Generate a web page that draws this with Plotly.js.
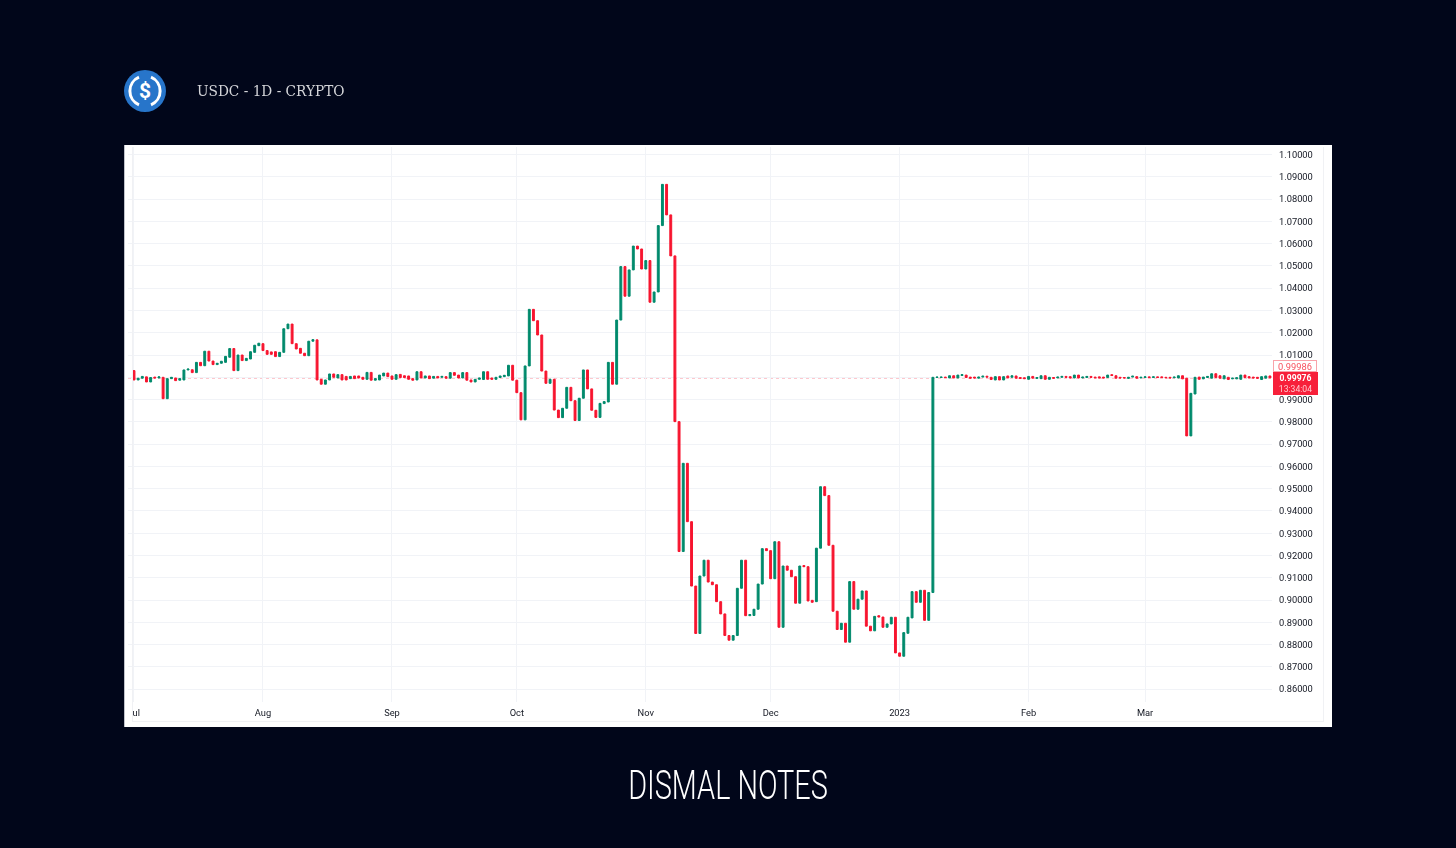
<!DOCTYPE html>
<html>
<head>
<meta charset="utf-8">
<title>USDC - 1D - CRYPTO</title>
<script src="https://cdn.plot.ly/plotly-3.0.1.min.js"></script>
<style>
  html, body { margin: 0; padding: 0; width: 1456px; height: 848px; overflow: hidden; background: #01061a; }
  #logo { position: absolute; left: 124px; top: 70px; }
  #pair { position: absolute; left: 197px; top: 82px; color: #d4d5d9; font: 15.4px "DejaVu Serif", serif; font-stretch: condensed; white-space: nowrap; transform-origin: left center; transform: scaleX(0.988); }
  #card { position: absolute; left: 124px; top: 145px; width: 1208px; height: 582px; background: #fff; filter: blur(0.4px); }
  #chart { position: absolute; left: 0; top: 0; }
  #frame { position: absolute; left: 8px; top: 2px; width: 1190px; height: 574px; border: 1px solid #f0f1f4; border-top: none; pointer-events: none; }
  #edge { position: absolute; left: 0; top: 0; width: 1px; height: 582px; background: #bfc2ca; }
  #brand { position: absolute; left: 0; width: 1456px; top: 761px; text-align: center; color: #fff; font: 300 41px Roboto, sans-serif; transform: scaleX(0.704); transform-origin: 728px center; }
</style>
</head>
<body>
<svg id="logo" width="42" height="42" viewBox="0 0 42 42">
  <circle cx="21" cy="21" r="21" fill="#2775ca"/>
  <path d="M15 7.2 A15 15 0 0 0 15 34.8 M27 7.2 A15 15 0 0 1 27 34.8" fill="none" stroke="#fff" stroke-width="3"/>
  <text x="21" y="28" text-anchor="middle" fill="#fff" font-family="Roboto" font-weight="700" font-size="21">$</text>
</svg>
<div id="pair">USDC - 1D - CRYPTO</div>
<div id="card">
  <div id="chart"></div>
  <div id="frame"></div>
  <div id="edge"></div>
</div>
<div id="brand">DISMAL NOTES</div>
<script>
// daily candles, first one is 1 Jul 2022
const firstDay = Date.UTC(2022, 6, 1);

const open = [
  1.0030, 0.9988, 0.9996, 1.0002, 0.9979, 1.0001, 0.9997, 1.0000, 0.9904, 0.9994,
  0.9997, 0.9987, 0.9988, 1.0033, 1.0034, 1.0021, 1.0067, 1.0052, 1.0117, 1.0073,
  1.0057, 1.0063, 1.0067, 1.0090, 1.0129, 1.0030, 1.0100, 1.0075, 1.0082, 1.0112,
  1.0142, 1.0151, 1.0120, 1.0114, 1.0115, 1.0093, 1.0112, 1.0218, 1.0239, 1.0151,
  1.0130, 1.0108, 1.0097, 1.0162, 1.0168, 0.9991, 0.9969, 0.9988, 1.0015, 0.9997,
  1.0012, 1.0004, 0.9994, 1.0006, 1.0006, 1.0000, 0.9991, 1.0022, 0.9987, 0.9988,
  1.0006, 1.0019, 1.0006, 0.9991, 1.0013, 1.0007, 1.0006, 0.9994, 0.9988, 1.0025,
  0.9997, 1.0006, 0.9996, 1.0004, 1.0000, 1.0003, 0.9996, 1.0021, 1.0010, 0.9997,
  1.0021, 0.9988, 0.9979, 0.9991, 0.9990, 1.0025, 0.9997, 0.9991, 0.9999, 1.0003,
  1.0006, 1.0054, 0.9987, 0.9931, 0.9809, 1.0051, 1.0305, 1.0254, 1.0190, 1.0028,
  0.9973, 0.9991, 0.9853, 0.9819, 0.9861, 0.9955, 0.9895, 0.9806, 0.9906, 1.0033,
  0.9948, 0.9852, 0.9820, 0.9882, 0.9889, 1.0067, 0.9969, 1.0257, 1.0497, 1.0364,
  1.0482, 1.0589, 1.0576, 1.0486, 1.0524, 1.0337, 1.0383, 1.0681, 1.0866, 1.0729,
  1.0545, 0.9801, 0.9218, 0.9614, 0.9352, 0.9063, 0.8850, 0.9108, 0.9179, 0.9081,
  0.9069, 0.8993, 0.8938, 0.8841, 0.8820, 0.8841, 0.9053, 0.9179, 0.8930, 0.8931,
  0.8959, 0.9072, 0.9231, 0.9222, 0.9096, 0.9262, 0.8878, 0.9153, 0.9134, 0.9105,
  0.8986, 0.9155, 0.9150, 0.8999, 0.8993, 0.9233, 0.9509, 0.9469, 0.9246, 0.8950,
  0.8868, 0.8896, 0.8811, 0.9083, 0.8959, 0.9004, 0.9041, 0.8883, 0.8862, 0.8930,
  0.8924, 0.8878, 0.8893, 0.8923, 0.8763, 0.8748, 0.8851, 0.8920, 0.9038, 0.8990,
  0.9044, 0.8909, 0.9034, 0.9999, 0.9999, 1.0001, 0.9997, 1.0007, 0.9997, 1.0008,
  1.0010, 1.0001, 1.0001, 0.9996, 1.0001, 1.0005, 1.0000, 0.9988, 1.0003, 0.9988,
  1.0006, 1.0000, 1.0006, 0.9999, 0.9998, 0.9991, 1.0004, 0.9995, 0.9994, 1.0007,
  0.9991, 0.9999, 0.9997, 1.0000, 1.0004, 1.0003, 0.9997, 1.0010, 0.9997, 0.9999,
  1.0004, 1.0001, 1.0002, 1.0001, 0.9999, 1.0012, 1.0007, 1.0000, 0.9999, 0.9995,
  1.0001, 1.0003, 0.9997, 0.9999, 1.0002, 0.9999, 1.0002, 1.0002, 1.0000, 1.0000,
  0.9998, 0.9997, 1.0007, 0.9996, 0.9737, 0.9925, 1.0001, 0.9993, 0.9999, 0.9996,
  1.0016, 1.0007, 0.9993, 1.0000, 0.9993, 0.9993, 0.9991, 1.0010, 1.0003, 1.0001,
  1.0000, 0.9990, 0.9996, 1.0006
];

const close = [
  0.9988, 0.9996, 1.0004, 0.9979, 0.9999, 0.9997, 1.0002, 0.9904, 0.9994, 1.0000,
  0.9985, 0.9994, 1.0033, 1.0037, 1.0021, 1.0067, 1.0052, 1.0117, 1.0073, 1.0057,
  1.0063, 1.0072, 1.0094, 1.0129, 1.0030, 1.0100, 1.0075, 1.0085, 1.0115, 1.0144,
  1.0153, 1.0120, 1.0103, 1.0103, 1.0093, 1.0112, 1.0218, 1.0239, 1.0151, 1.0127,
  1.0108, 1.0097, 1.0162, 1.0169, 0.9988, 0.9969, 0.9988, 1.0015, 1.0000, 1.0012,
  0.9988, 0.9988, 1.0004, 0.9994, 0.9997, 0.9991, 1.0022, 0.9987, 0.9994, 1.0010,
  1.0019, 1.0003, 0.9991, 1.0012, 0.9999, 0.9999, 0.9991, 0.9987, 1.0025, 0.9997,
  1.0006, 0.9994, 1.0004, 0.9997, 1.0004, 0.9996, 1.0021, 1.0009, 0.9997, 1.0021,
  0.9987, 0.9979, 0.9991, 0.9997, 1.0025, 0.9991, 0.9991, 1.0000, 1.0006, 1.0009,
  1.0054, 0.9987, 0.9931, 0.9809, 1.0051, 1.0305, 1.0254, 1.0190, 1.0028, 0.9973,
  0.9991, 0.9853, 0.9819, 0.9861, 0.9955, 0.9895, 0.9806, 0.9906, 1.0033, 0.9948,
  0.9852, 0.9820, 0.9883, 0.9891, 1.0067, 0.9969, 1.0257, 1.0497, 1.0364, 1.0482,
  1.0589, 1.0576, 1.0486, 1.0524, 1.0337, 1.0383, 1.0681, 1.0866, 1.0729, 1.0545,
  0.9801, 0.9218, 0.9614, 0.9352, 0.9063, 0.8850, 0.9108, 0.9179, 0.9081, 0.9069,
  0.8993, 0.8938, 0.8841, 0.8820, 0.8841, 0.9053, 0.9179, 0.8930, 0.8935, 0.8959,
  0.9072, 0.9231, 0.9222, 0.9096, 0.9262, 0.8878, 0.9153, 0.9134, 0.9105, 0.8986,
  0.9153, 0.9150, 0.8996, 0.8990, 0.9233, 0.9509, 0.9469, 0.9246, 0.8950, 0.8868,
  0.8896, 0.8811, 0.9083, 0.8959, 0.9004, 0.9041, 0.8883, 0.8862, 0.8927, 0.8924,
  0.8878, 0.8893, 0.8923, 0.8763, 0.8748, 0.8854, 0.8923, 0.9038, 0.8990, 0.9044,
  0.8909, 0.9034, 1.0000, 1.0001, 1.0001, 0.9999, 1.0007, 0.9997, 1.0010, 1.0012,
  0.9999, 0.9996, 0.9997, 1.0001, 1.0005, 1.0001, 0.9990, 1.0003, 0.9988, 1.0003,
  0.9997, 1.0007, 0.9996, 0.9995, 0.9994, 1.0004, 0.9996, 0.9999, 1.0007, 0.9991,
  1.0000, 0.9996, 1.0001, 1.0004, 1.0000, 0.9997, 1.0010, 0.9997, 1.0001, 1.0004,
  1.0000, 0.9998, 0.9997, 0.9997, 1.0010, 1.0008, 0.9996, 0.9997, 0.9997, 1.0000,
  1.0005, 0.9996, 1.0000, 1.0002, 0.9999, 1.0002, 0.9999, 0.9999, 0.9998, 0.9997,
  1.0001, 1.0007, 0.9993, 0.9737, 0.9928, 1.0000, 0.9991, 1.0001, 1.0004, 1.0016,
  0.9999, 0.9996, 1.0007, 0.9990, 0.9996, 0.9998, 1.0010, 0.9999, 0.9997, 0.9997,
  0.9996, 1.0003, 1.0006, 0.99976
];

const monthTicks = ['2022-07-01', '2022-08-01', '2022-09-01', '2022-10-01', '2022-11-01', '2022-12-01', '2023-01-01', '2023-02-01', '2023-03-01'];
const monthLabels = ['\u00a0\u00a0ul', 'Aug', 'Sep', 'Oct', 'Nov', 'Dec', '2023', 'Feb', 'Mar'];

const priceTicks = [0.86, 0.87, 0.88, 0.89, 0.90, 0.91, 0.92, 0.93, 0.94, 0.95, 0.96, 0.97, 0.98, 0.99, 1.00, 1.01, 1.02, 1.03, 1.04, 1.05, 1.06, 1.07, 1.08, 1.09, 1.10];
// 1.00000 sits behind the price tags in the picture
const priceLabels = ['0.86000', '0.87000', '0.88000', '0.89000', '0.90000', '0.91000', '0.92000', '0.93000', '0.94000', '0.95000', '0.96000', '0.97000', '0.98000', '0.99000', '', '1.01000', '1.02000', '1.03000', '1.04000', '1.05000', '1.06000', '1.07000', '1.08000', '1.09000', '1.10000'];

const lastPrice = 0.99976;
const otherPrice = 0.99986;
const countdown = '13:34:04';

function dayLabel(i) {
    return new Date(firstDay + i * 86400000).toISOString().slice(0, 10);
}

function drawChart() {
    const days = open.map((_, i) => dayLabel(i));
    // no wicks can be seen in the picture, so the candle range is just the body
    const high = open.map((o, i) => Math.max(o, close[i]));
    const low = open.map((o, i) => Math.min(o, close[i]));

    const candles = {
        type: 'candlestick',
        x: days,
        open: open,
        high: high,
        low: low,
        close: close,
        increasing: { line: { color: '#008a6c', width: 1 }, fillcolor: '#008a6c' },
        decreasing: { line: { color: '#f7152f', width: 1 }, fillcolor: '#f7152f' },
        hoverinfo: 'x+y'
    };

    const layout = {
        width: 1208,
        height: 582,
        margin: { l: 4, r: 60, t: 2, b: 25 },
        paper_bgcolor: '#fff',
        plot_bgcolor: '#fff',
        showlegend: false,
        boxgap: 0.35,
        font: { family: 'Roboto, sans-serif', size: 9.3, color: '#131722' },
        xaxis: {
            type: 'date',
            range: ['2022-06-29 13:26', '2023-03-31 12:00'],
            rangeslider: { visible: false },
            tickvals: monthTicks,
            ticktext: monthLabels,
            tickangle: 0,
            showgrid: true,
            gridcolor: '#f1f3f7',
            zeroline: false,
            showline: false,
            ticks: '',
            ticklabelstandoff: 4
        },
        yaxis: {
            side: 'right',
            range: [0.85426, 1.10337],
            tickvals: priceTicks,
            ticktext: priceLabels,
            showgrid: true,
            gridcolor: '#f1f3f7',
            zeroline: false,
            showline: false,
            ticks: '',
            ticklabelstandoff: 6
        },
        shapes: [{
            type: 'line',
            xref: 'paper', x0: 0, x1: 1,
            yref: 'y', y0: lastPrice, y1: lastPrice,
            line: { color: 'rgba(247,21,47,0.7)', width: 1, dash: 'dot' },
            layer: 'below'
        }],
        annotations: [{
            xref: 'paper', yref: 'y', x: 1.001, y: lastPrice,
            xanchor: 'left', yanchor: 'middle', yshift: 12,
            text: otherPrice.toFixed(5),
            showarrow: false,
            width: 42, height: 10,
            font: { family: 'Roboto, sans-serif', size: 9.3, color: '#f7525f' },
            bgcolor: '#fff', bordercolor: '#f9a3aa', borderwidth: 1, borderpad: 0
        }, {
            xref: 'paper', yref: 'y', x: 1.001, y: lastPrice,
            xanchor: 'left', yanchor: 'middle', yshift: -5.5,
            text: '<b>' + lastPrice.toFixed(5) + '</b><br><span style="color:#ffc9cf">' + countdown + '</span>',
            showarrow: false,
            width: 45, height: 23,
            font: { family: 'Roboto, sans-serif', size: 8.6, color: '#fff' },
            bgcolor: '#f7203a', borderwidth: 0, borderpad: 0
        }]
    };

    Plotly.newPlot('chart', [candles], layout, { displayModeBar: false, staticPlot: true });
}

drawChart();
</script>
</body>
</html>
